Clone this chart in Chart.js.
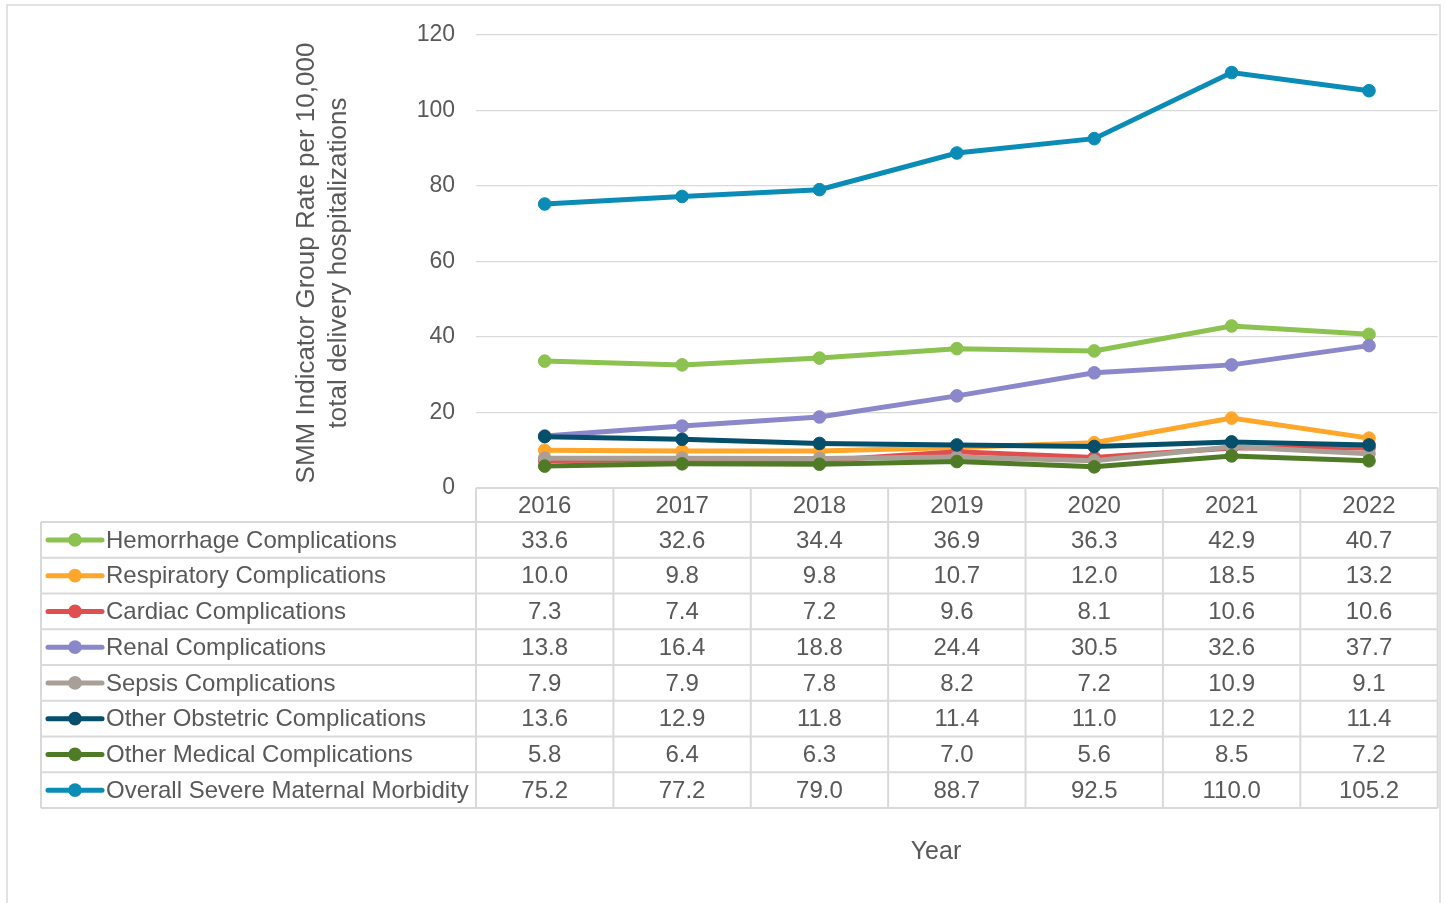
<!DOCTYPE html>
<html>
<head>
<meta charset="utf-8">
<title>SMM Indicator Group Rates</title>
<script src="https://cdn.jsdelivr.net/npm/chart.js@4/dist/chart.umd.min.js"></script>
<style>
  html, body { margin: 0; padding: 0; background: #ffffff; }
  #wrap { width: 1445px; height: 903px; }
</style>
</head>
<body>
<div id="wrap"><canvas id="smm" width="1445" height="903"></canvas></div>
<script>
// Years shown on the category axis / table header
const years = ['2016', '2017', '2018', '2019', '2020', '2021', '2022'];

// Rate per 10,000 total delivery hospitalizations, by indicator group
const hemorrhage     = [33.6, 32.6, 34.4, 36.9, 36.3, 42.9, 40.7];
const respiratory    = [10.0, 9.8, 9.8, 10.7, 12.0, 18.5, 13.2];
const cardiac        = [7.3, 7.4, 7.2, 9.6, 8.1, 10.6, 10.6];
const renal          = [13.8, 16.4, 18.8, 24.4, 30.5, 32.6, 37.7];
const sepsis         = [7.9, 7.9, 7.8, 8.2, 7.2, 10.9, 9.1];
const otherObstetric = [13.6, 12.9, 11.8, 11.4, 11.0, 12.2, 11.4];
const otherMedical   = [5.8, 6.4, 6.3, 7.0, 5.6, 8.5, 7.2];
const overallSMM     = [75.2, 77.2, 79.0, 88.7, 92.5, 110.0, 105.2];

const seriesNames = [
  'Hemorrhage Complications',
  'Respiratory Complications',
  'Cardiac Complications',
  'Renal Complications',
  'Sepsis Complications',
  'Other Obstetric Complications',
  'Other Medical Complications',
  'Overall Severe Maternal Morbidity'
];
const seriesValues = [hemorrhage, respiratory, cardiac, renal, sepsis, otherObstetric, otherMedical, overallSMM];
const seriesColors = ['#8cc24f', '#ffa62b', '#e04e4e', '#8a87cb', '#a99f96', '#054f6a', '#4f7b27', '#0b8cb6'];

// Y axis range
const yMin = 0, yMax = 120, yStep = 20;

const FONT = '"Liberation Sans", Arial, sans-serif';
const TEXT = '#595959';
const RULE = '#d9d9d9';

const datasets = seriesNames.map((name, i) => ({
  label: name,
  data: seriesValues[i],
  borderColor: seriesColors[i],
  backgroundColor: seriesColors[i],
  pointBackgroundColor: seriesColors[i],
  pointBorderColor: seriesColors[i],
  borderWidth: 5,
  pointRadius: 6.3,
  pointBorderWidth: 1,
  tension: 0,
  // later series paint over earlier ones
  order: seriesNames.length - i
}));

// Frame, y axis title, data table with legend keys, x axis title
const decorPlugin = {
  id: 'decor',
  beforeDraw(chart) {
    const ctx = chart.ctx;
    ctx.save();
    ctx.fillStyle = '#ffffff';
    ctx.fillRect(0, 0, chart.width, chart.height);
    ctx.strokeStyle = RULE;
    ctx.lineWidth = 1.5;
    ctx.strokeRect(7, 5, 1433, chart.height + 10);
    ctx.restore();
  },
  afterDraw(chart) {
    const ctx = chart.ctx;
    const area = chart.chartArea;
    const xs = chart.scales.x;
    const colW = xs.getPixelForValue(1) - xs.getPixelForValue(0);
    const tableLeft = 41;
    const top = area.bottom;
    const headBottom = top + 34;
    const rowH = 35.75;
    const n = seriesNames.length;
    const bottom = headBottom + rowH * n;

    ctx.save();
    // grid of the data table
    ctx.strokeStyle = RULE;
    ctx.lineWidth = 2;
    ctx.beginPath();
    ctx.moveTo(area.left, top); ctx.lineTo(area.right, top);
    for (let i = 0; i <= n; i++) {
      const y = headBottom + i * rowH;
      ctx.moveTo(tableLeft, y); ctx.lineTo(area.right, y);
    }
    ctx.moveTo(tableLeft, headBottom); ctx.lineTo(tableLeft, bottom);
    for (let j = 0; j <= years.length; j++) {
      const x = area.left + j * colW;
      ctx.moveTo(x, top); ctx.lineTo(x, bottom);
    }
    ctx.stroke();

    ctx.fillStyle = TEXT;
    ctx.font = '24px ' + FONT;
    ctx.textBaseline = 'middle';
    ctx.textAlign = 'center';
    // header: years
    years.forEach((yr, j) => {
      ctx.fillText(yr, xs.getPixelForValue(j), (top + headBottom) / 2 + 1);
    });
    // rows
    seriesNames.forEach((name, i) => {
      const cy = headBottom + rowH * (i + 0.5) + 1;
      const col = seriesColors[i];
      // legend key
      ctx.strokeStyle = col;
      ctx.lineWidth = 5;
      ctx.lineCap = 'round';
      ctx.beginPath();
      ctx.moveTo(48, cy - 1); ctx.lineTo(102, cy - 1);
      ctx.stroke();
      ctx.fillStyle = col;
      ctx.beginPath();
      ctx.arc(75, cy - 1, 6.8, 0, Math.PI * 2);
      ctx.fill();
      // label
      ctx.fillStyle = TEXT;
      ctx.textAlign = 'left';
      ctx.fillText(name, 106, cy);
      // values
      ctx.textAlign = 'center';
      seriesValues[i].forEach((v, j) => {
        ctx.fillText(v.toFixed(1), xs.getPixelForValue(j), cy);
      });
    });

    // y axis title (two lines, rotated)
    ctx.save();
    ctx.font = '26px ' + FONT;
    ctx.translate(323, 263);
    ctx.rotate(-Math.PI / 2);
    ctx.textAlign = 'center';
    ctx.fillText('SMM Indicator Group Rate per 10,000', 0, -16);
    ctx.fillText('total delivery hospitalizations', 0, 16);
    ctx.restore();

    // x axis title
    ctx.font = '25px ' + FONT;
    ctx.textAlign = 'center';
    ctx.fillText('Year', 936, 852);
    ctx.restore();
  }
};

new Chart(document.getElementById('smm'), {
  type: 'line',
  data: { labels: years, datasets },
  options: {
    responsive: false,
    animation: false,
    events: [],
    layout: { padding: { left: 0, right: 5, top: 33, bottom: 415 } },
    plugins: { legend: { display: false }, tooltip: { enabled: false }, title: { display: false } },
    scales: {
      x: {
        type: 'category',
        offset: true,
        display: false
      },
      y: {
        min: yMin,
        max: yMax,
        ticks: {
          stepSize: yStep,
          color: TEXT,
          font: { family: FONT, size: 23 },
          padding: 21
        },
        grid: { color: RULE, lineWidth: 1.3, drawTicks: false },
        border: { display: false },
        afterFit(scale) { scale.width = 476; }
      }
    }
  },
  plugins: [decorPlugin]
});
</script>
</body>
</html>
